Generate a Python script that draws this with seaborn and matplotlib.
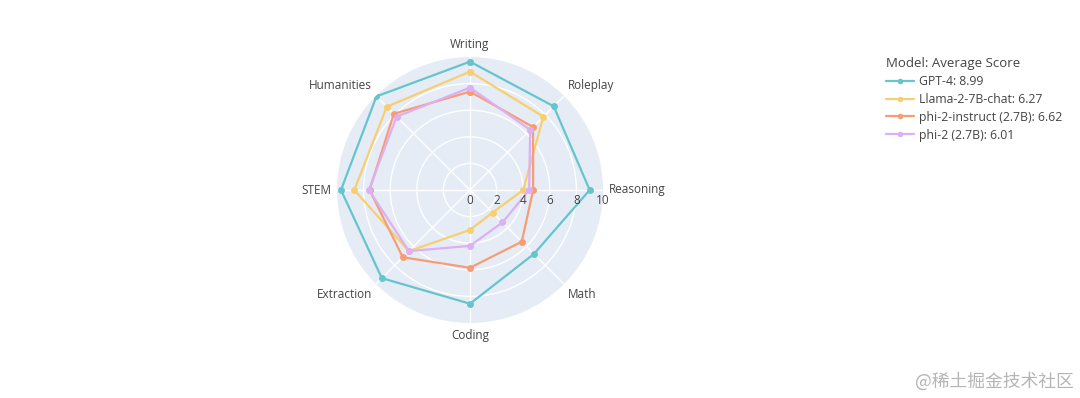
import numpy as np
import pandas as pd
import seaborn as sns
import matplotlib.pyplot as plt
from matplotlib.lines import Line2D

categories = ['Writing', 'Roleplay', 'Reasoning', 'Math',
              'Coding', 'Extraction', 'STEM', 'Humanities']
models = ['GPT-4', 'Llama-2-7B-chat', 'phi-2-instruct (2.7B)', 'phi-2 (2.7B)']
gpt4 = [9.65, 8.9, 9.0, 6.8, 8.55, 9.375, 9.7, 9.95]
llama2 = [8.9, 7.8, 4.0, 2.4, 3.0, 6.5, 8.7, 8.85]
phi2_instruct = [7.4, 6.7, 4.75, 5.5, 5.85, 7.15, 7.55, 8.1]
phi2 = [7.7, 6.4, 4.45, 3.45, 4.2, 6.5, 7.6, 7.8]
avg_scores = [8.99, 6.27, 6.62, 6.01]
radial_ticks = [0, 2, 4, 6, 8, 10]
colors = ['#66C5CC', '#F6CF71', '#F89C74', '#DCB0F2']

sns.set_theme(style='white')
plt.rcParams['font.family'] = ['Open Sans', 'DejaVu Sans']
text_color = '#444444'

# long table, each loop closed by repeating the first category at 2*pi
angles = np.linspace(0, 2 * np.pi, len(categories), endpoint=False)
closed_angles = list(angles) + [2 * np.pi]
rows = []
for name, scores in zip(models, [gpt4, llama2, phi2_instruct, phi2]):
    closed_scores = list(scores) + [scores[0]]
    for theta, score in zip(closed_angles, closed_scores):
        rows.append({'model': name, 'theta': theta, 'score': score})
df = pd.DataFrame(rows)

fig = plt.figure(figsize=(10.8, 3.98), dpi=100)
cx, cy, rad = 470, 190, 133
ax = fig.add_axes([(cx - rad) / 1080, (398 - cy - rad) / 398, 2 * rad / 1080, 2 * rad / 398],
                  projection='polar')
ax.set_theta_offset(np.pi / 2)
ax.set_theta_direction(-1)
ax.set_facecolor('#E5ECF6')
ax.set_ylim(0, 10)
ax.set_xticks(angles)
ax.set_xticklabels([])
ax.set_yticks([2, 4, 6, 8])
ax.set_yticklabels([])
ax.grid(True, color='white', linewidth=1)
ax.spines['polar'].set_visible(False)

for v in radial_ticks:
    ax.annotate(str(v), xy=(np.pi / 2, v), xytext=(0, -3), textcoords='offset points',
                ha='center', va='top', color=text_color, fontsize=8.5)

sns.lineplot(data=df, x='theta', y='score', hue='model', palette=colors,
             sort=False, marker='o', markersize=5, markeredgewidth=0,
             linewidth=1.6, ax=ax, legend=False)
ax.set_xlabel('')
ax.set_ylabel('')

for ang, label in zip(angles, categories):
    dx, dy = np.sin(ang), np.cos(ang)
    ha = 'left' if dx > 0.01 else ('right' if dx < -0.01 else 'center')
    va = 'bottom' if dy > 0.01 else ('top' if dy < -0.01 else 'center')
    ax.annotate(label, xy=(ang, 10), xytext=(4 * dx, 4 * dy), textcoords='offset points',
                ha=ha, va=va, color=text_color, fontsize=8.5, annotation_clip=False)

handles = [Line2D([], [], color=c, marker='o', markersize=4, markeredgewidth=0, linewidth=1.6)
           for c in colors]
labels = ['{}: {:.2f}'.format(m, a) for m, a in zip(models, avg_scores)]
leg = fig.legend(handles, labels, title='Model: Average Score', loc='upper left',
                 bbox_to_anchor=(886 / 1080, 1 - 57 / 398), frameon=False,
                 alignment='left', fontsize=8.8, title_fontsize=9.5,
                 handlelength=2.3, handletextpad=0.4, labelspacing=0.4,
                 borderpad=0, borderaxespad=0)
for t in leg.get_texts():
    t.set_color(text_color)
leg.get_title().set_color(text_color)

fig.text(1074 / 1080, 1 - 381 / 398, '@稀土掘金技术社区', ha='right', va='center',
         fontsize=12.8, color='#b5b5b5',
         family=['Noto Sans CJK SC', 'DejaVu Sans'])

fig.savefig('out.png', dpi=100, facecolor='white')
